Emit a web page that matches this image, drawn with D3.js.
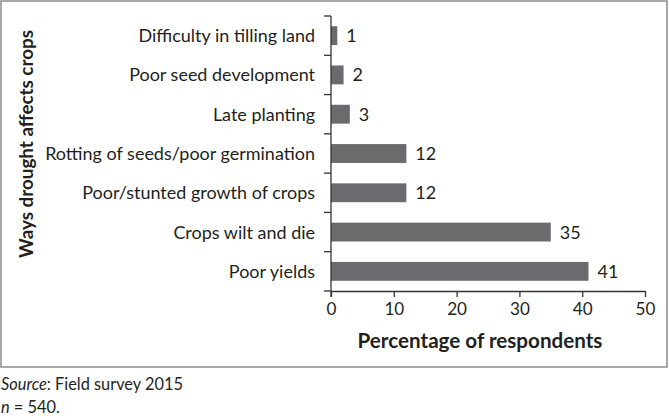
<!DOCTYPE html>
<html><head><meta charset="utf-8">
<script src="https://cdn.jsdelivr.net/npm/d3@7"></script>
<style>
html,body{margin:0;padding:0;background:#fff;}
svg{display:block;font-family:Lato, "Open Sans", sans-serif;}
</style></head>
<body>
<svg id="chart" width="670" height="419"></svg>
<script>
const categories = ["Difficulty in tilling land","Poor seed development","Late planting","Rotting of seeds/poor germination","Poor/stunted growth of crops","Crops wilt and die","Poor yields"];
const values = [1,2,3,12,12,35,41];
const xTicks = [0,10,20,30,40,50];
const xTitle = "Percentage of respondents";
const yTitle = "Ways drought affects crops";
const sourceNote = "Field survey 2015";
const nNote = "540.";

const svg = d3.select("#chart");
const m = {left:331, right:645, top:16, bottom:291};
const x = d3.scaleLinear().domain([0,50]).range([m.left, m.right]);
const y = d3.scaleBand().domain(categories).range([m.top, m.bottom]).paddingInner(0.52).paddingOuter(0.26);

// fit a font size so that text element(s) reach a target total width
function fitSize(sel, target, base) {
  sel.attr("font-size", base);
  let w = 0;
  sel.each(function(){ w += this.getComputedTextLength(); });
  return w > 0 ? base * target / w : base;
}

// frame
svg.append("rect").attr("x",1).attr("y",1).attr("width",666).attr("height",366)
  .attr("fill","none").attr("stroke","#8a8a8a").attr("stroke-width",1.5);

// bars
svg.append("g").selectAll("rect").data(values).join("rect")
  .attr("x", x(0)).attr("y",(d,i)=>y(categories[i]))
  .attr("width", d=>x(d)-x(0)).attr("height", y.bandwidth())
  .attr("fill","#6b6b6e");

// y axis line + boundary ticks
const step = (m.bottom-m.top)/categories.length;
const yAx = svg.append("g").attr("stroke","#333").attr("stroke-width",1.3);
yAx.append("line").attr("x1",x(0)).attr("x2",x(0)).attr("y1",m.top).attr("y2",m.bottom+6);
yAx.selectAll("line.tk").data(d3.range(categories.length+1)).join("line").attr("class","tk")
  .attr("x1",x(0)-7).attr("x2",x(0)).attr("y1",i=>m.top+i*step).attr("y2",i=>m.top+i*step);

// category labels
const catLabels = svg.append("g").selectAll("text").data(categories).join("text")
  .attr("x", x(0)-16).attr("y", d=>y(d)+y.bandwidth()/2).attr("dy","0.36em")
  .attr("text-anchor","end").attr("fill","#231f20").text(d=>d);
const catSize = fitSize(catLabels, 1196, 18);
catLabels.attr("font-size", catSize);

// value labels
svg.append("g").selectAll("text").data(values).join("text")
  .attr("x", d=>x(d)+9).attr("y",(d,i)=>y(categories[i])+y.bandwidth()/2)
  .attr("dy","0.36em").attr("font-size",catSize).attr("fill","#231f20").text(d=>d);

// x axis
const xAxis = d3.axisBottom(x).tickValues(xTicks).tickSize(6).tickSizeOuter(0).tickPadding(6);
const gx = svg.append("g").attr("transform",`translate(0,${m.bottom})`).call(xAxis);
gx.select(".domain").attr("stroke","#333").attr("stroke-width",1.3);
gx.selectAll(".tick line").attr("stroke","#333").attr("stroke-width",1.3);
gx.selectAll(".tick text").attr("font-size",catSize*0.95).attr("fill","#231f20").attr("font-family","Lato, sans-serif");

// titles
const xt = svg.append("text").attr("x",480).attr("y",348).attr("text-anchor","middle")
  .attr("font-weight","bold").attr("fill","#231f20").text(xTitle);
xt.attr("font-size", fitSize(xt, 245, 20));
const yt = svg.append("text").attr("transform","translate(33,144) rotate(-90)").attr("text-anchor","middle")
  .attr("font-weight","bold").attr("fill","#231f20").text(yTitle);
yt.attr("font-size", fitSize(yt, 228, 20));

// notes
const n1 = svg.append("text").attr("x",1).attr("y",390).attr("fill","#231f20");
n1.append("tspan").attr("font-style","italic").text("Source");
n1.append("tspan").text(": " + sourceNote);
const noteSize = fitSize(n1, 182, 17);
n1.attr("font-size", noteSize);
const n2 = svg.append("text").attr("x",1).attr("y",413).attr("font-size",noteSize).attr("fill","#231f20");
n2.append("tspan").attr("font-style","italic").text("n");
n2.append("tspan").text(" = " + nNote);
</script>
</body></html>
